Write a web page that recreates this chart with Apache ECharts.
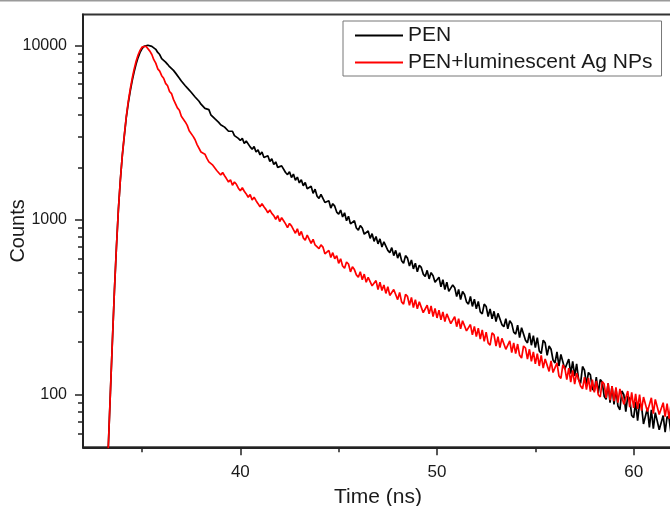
<!DOCTYPE html>
<html>
<head>
<meta charset="utf-8">
<script src="https://cdn.jsdelivr.net/npm/echarts@6/dist/echarts.min.js"></script>
<style>
html,body{margin:0;padding:0;background:#fff;}
#chart{width:670px;height:506px;}
</style>
</head>
<body>
<div id="chart"></div>
<script>
// time channels: 33.2 ns .. 62.0 ns, 0.1 ns apart
var t0 = 33.2, dt = 0.1;

var penCounts = [
  28, 55, 108, 210, 400, 700, 1150, 1700,
  2350, 3030, 3850, 4650, 5450, 6250, 7050, 7800, 8500, 9100,
  9550, 9850, 9980, 10000, 9960, 9850, 9650, 9480, 9100, 8850,
  8380, 8280, 8010, 7780, 7540, 7460, 7180, 6950, 6800, 6480,
  6240, 6210, 5870, 5700, 5650, 5380, 5300, 5060, 5050, 4780,
  4600, 4640, 4350, 4250, 4280, 4000, 4060, 3800, 3830, 3620,
  3510, 3590, 3400, 3450, 3220, 3300, 3220, 3040, 3100, 2930,
  2850, 2930, 2740, 2830, 2780, 2620, 2540, 2630, 2450, 2520,
  2360, 2450, 2280, 2250, 2330, 2160, 2240, 2080, 2150, 2000,
  1960, 2040, 1990, 1870, 1820, 1890, 1750, 1830, 1690, 1760,
  1630, 1700, 1570, 1640, 1510, 1500, 1560, 1420, 1500, 1370,
  1330, 1400, 1370, 1260, 1230, 1290, 1170, 1240, 1200, 1110,
  1080, 1140, 1040, 1100, 990, 1050, 950, 930, 990, 900,
  875, 930, 900, 830, 810, 865, 785, 835, 755, 805,
  730, 780, 700, 750, 735, 670, 650, 695, 625, 670,
  605, 650, 585, 565, 625, 605, 545, 590, 525, 565,
  505, 550, 535, 490, 475, 515, 460, 500, 480, 440,
  430, 470, 415, 455, 400, 440, 390, 380, 425, 410,
  365, 400, 350, 390, 375, 340, 330, 365, 320, 352,
  310, 342, 298, 290, 330, 320, 280, 310, 272, 300,
  262, 292, 285, 252, 245, 272, 238, 265, 255, 228,
  222, 250, 212, 242, 236, 205, 198, 226, 192, 218,
  186, 212, 178, 172, 205, 198, 168, 190, 182, 158,
  152, 176, 146, 170, 166, 140, 138, 160, 132, 155,
  128, 150, 122, 116, 145, 138, 114, 134, 130, 108,
  105, 126, 102, 122, 118, 98, 94, 116, 90, 112,
  88, 108, 86, 82, 105, 100, 80, 98, 95, 76,
  74, 91, 71, 89, 86, 68, 67, 84, 65, 82,
  64, 79, 77, 63, 62, 76, 61, 75, 73, 60,
  59
];

var agCounts = [
  28, 55, 108, 210, 400, 700, 1150, 1700,
  2350, 3050, 3900, 4750, 5600, 6450, 7300, 8100, 8800, 9350,
  9750, 10000, 9870, 9700, 9260, 8850, 8270, 7900, 7330, 7110,
  6700, 6480, 6050, 5860, 5440, 5290, 4900, 4780, 4380, 4250,
  3920, 3880, 3640, 3480, 3240, 3210, 3010, 2880, 2700, 2680,
  2450, 2490, 2380, 2250, 2150, 2190, 2060, 2030, 1920, 1960,
  1810, 1870, 1790, 1720, 1650, 1700, 1580, 1650, 1600, 1520,
  1470, 1530, 1460, 1410, 1350, 1400, 1300, 1350, 1290, 1240,
  1190, 1240, 1190, 1150, 1100, 1140, 1090, 1060, 1010, 1060,
  980, 1030, 990, 950, 905, 955, 925, 880, 840, 890,
  815, 860, 790, 765, 820, 800, 735, 775, 720, 730,
  685, 720, 700, 640, 630, 670, 610, 650, 600, 625,
  565, 600, 545, 530, 575, 560, 505, 540, 520, 485,
  470, 505, 455, 490, 440, 470, 475, 420, 415, 450,
  400, 440, 395, 425, 380, 415, 370, 365, 400, 390,
  350, 385, 340, 330, 375, 365, 325, 360, 315, 350,
  310, 340, 335, 295, 300, 325, 290, 322, 280, 312,
  275, 305, 268, 298, 262, 290, 295, 255, 250, 280,
  245, 272, 238, 265, 270, 232, 228, 252, 220, 246,
  215, 240, 208, 235, 202, 228, 198, 192, 226, 220,
  190, 215, 186, 210, 212, 182, 180, 203, 174, 198,
  172, 195, 168, 162, 190, 185, 160, 182, 155, 176,
  150, 172, 146, 168, 142, 160, 164, 136, 156, 134,
  134, 152, 128, 124, 148, 142, 122, 142, 118, 138,
  115, 133, 130, 112, 108, 126, 107, 125, 104, 122,
  103, 120, 100, 97, 119, 115, 96, 116, 93, 112,
  92, 110, 90, 108, 106, 88, 88, 105, 85, 103,
  84, 101, 83, 100, 81, 97, 97, 80, 79, 96,
  78, 94, 92, 77, 76, 90, 75, 89, 73, 88,
  72
];

var xMajorTicks = [40, 50, 60];
var xMinorTicks = [35, 45, 55];
var yMajorTicks = [100, 1000, 10000];
var yMinorTicks = [60, 70, 80, 90, 200, 300, 400, 500, 600, 700, 800, 900,
  2000, 3000, 4000, 5000, 6000, 7000, 8000, 9000];

function toPairs(counts) {
  return counts.map(function (c, i) {
    return [+(t0 + i * dt).toFixed(1), c];
  });
}

var font = '"Liberation Sans", Arial, sans-serif';
var ink = '#1a1a1a';

var myChart = echarts.init(document.getElementById('chart'));
myChart.setOption({
  animation: false,
  graphic: [{
    type: 'rect',
    shape: { x: 0, y: 0, width: 670, height: 1.5 },
    style: { fill: '#9a9a9a' }
  }],
  grid: {
    left: 83, top: 14.5, width: 590, height: 432.8,
    containLabel: false, outerBoundsMode: 'none',
    show: true, borderColor: '#333', borderWidth: 2
  },
  legend: {
    orient: 'vertical',
    left: 343, top: 21,
    icon: 'rect',
    itemWidth: 48, itemHeight: 2, itemGap: 6,
    padding: [4, 9, 3, 12],
    borderColor: '#777', borderWidth: 1,
    backgroundColor: '#fff',
    textStyle: { fontSize: 21, color: ink, fontFamily: font },
    data: ['PEN', 'PEN+luminescent Ag NPs']
  },
  xAxis: [{
    type: 'value', min: 32, max: 62,
    name: 'Time (ns)', nameLocation: 'middle', nameGap: 39,
    nameTextStyle: { fontSize: 21, color: ink, fontFamily: font },
    axisLine: { lineStyle: { color: '#222', width: 2 } },
    axisTick: { customValues: xMajorTicks, length: 8, lineStyle: { color: '#222', width: 1.5 } },
    axisLabel: { customValues: xMajorTicks, margin: 17, fontSize: 17, color: ink, fontFamily: font },
    splitLine: { show: false }
  }, {
    type: 'value', min: 32, max: 62, position: 'bottom',
    axisLine: { show: false },
    axisTick: { customValues: xMinorTicks, length: 5, lineStyle: { color: '#222', width: 1.5 } },
    axisLabel: { show: false },
    splitLine: { show: false }
  }],
  yAxis: [{
    type: 'log', min: 50, max: 15000,
    name: 'Counts', nameLocation: 'middle', nameGap: 55, nameMoveOverlap: false,
    nameTextStyle: { fontSize: 20, color: ink, fontFamily: font },
    axisLine: { show: true, lineStyle: { color: '#222', width: 2 } },
    axisTick: { show: true, customValues: yMajorTicks, length: 8, lineStyle: { color: '#222', width: 1.5 } },
    axisLabel: {
      customValues: yMajorTicks, margin: 16, fontSize: 16, color: ink, fontFamily: font,
      formatter: function (v) { return String(Math.round(v)); }
    },
    splitLine: { show: false }
  }, {
    type: 'log', min: 50, max: 15000, position: 'left',
    axisLine: { show: false },
    axisTick: { show: true, customValues: yMinorTicks, length: 5, lineStyle: { color: '#222', width: 1.5 } },
    axisLabel: { show: false },
    splitLine: { show: false }
  }],
  series: [{
    name: 'PEN',
    type: 'line',
    xAxisIndex: 0, yAxisIndex: 0,
    data: toPairs(penCounts),
    symbol: 'none', showSymbol: false,
    lineStyle: { color: '#000', width: 1.7 },
    itemStyle: { color: '#000' }
  }, {
    name: 'PEN+luminescent Ag NPs',
    type: 'line',
    xAxisIndex: 0, yAxisIndex: 0,
    data: toPairs(agCounts),
    symbol: 'none', showSymbol: false,
    lineStyle: { color: '#ff0000', width: 1.7 },
    itemStyle: { color: '#ff0000' }
  }]
});
</script>
</body>
</html>
